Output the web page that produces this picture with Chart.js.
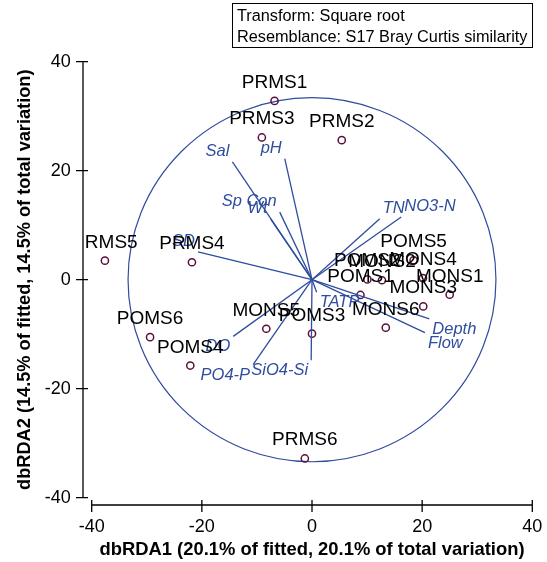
<!DOCTYPE html>
<html><head><meta charset="utf-8">
<script src="https://cdn.jsdelivr.net/npm/chart.js@4/dist/chart.umd.min.js"></script>
<style>html,body{margin:0;padding:0;background:#fff;}</style>
</head><body>
<canvas id="c" width="547" height="562"></canvas>
<script>
// ---- data ----
const sampleNames = ['PRMS1','PRMS2','PRMS3','PRMS4','PRMS5','PRMS6',
                     'POMS1','POMS2','POMS3','POMS4','POMS5','POMS6',
                     'MONS1','MONS2','MONS3','MONS4','MONS5','MONS6'];
const sampleX = [-6.8, 5.4, -9.1, -21.8, -37.6, -1.3,
                  8.8, 10.05, 0.0, -22.1, 18.45, -29.4,
                  25.0, 12.7, 20.2, 20.15, -8.3, 13.4];
const sampleY = [32.8, 25.6, 26.1, 3.2, 3.5, -32.8,
                 -2.8, 0.05, -9.9, -15.75, 3.55, -10.55,
                 -2.75, -0.1, -4.9, 0.3, -9.0, -8.8];
const vectorNames = ['Sal','pH','Sp Con','Wt','SD','DO','PO4-P','SiO4-Si','TATP','TN','NO3-N','Depth','Flow'];
const vectorX = [-14.45, -4.95, -5.86, -7.5, -20.7, -14.3, -10.7, -0.15, 0.85, 12.3, 16.2, 21.3, 20.5];
const vectorY = [21.6, 22.2, 12.4, 11.1, 5.1, -10.4, -15.6, -14.8, -2.3, 11.2, 11.5, -7.2, -9.7];
const xTicks = [-40, -20, 0, 20, 40];
const yTicks = [-40, -20, 0, 20, 40];
const circleRadius = 33.4;
const infoLines = ['Transform: Square root', 'Resemblance: S17 Bray Curtis similarity'];
const xTitle = 'dbRDA1 (20.1% of fitted, 20.1% of total variation)';
const yTitle = 'dbRDA2 (14.5% of fitted, 14.5% of total variation)';

// ---- styles ----
const FONT = "'Liberation Sans', Arial, sans-serif";
const BLUE = '#2f4d9e';
const PURPLE = '#5a0f3c';

const datasets = [];
vectorNames.forEach((n, i) => {
  datasets.push({
    label: n, type: 'scatter', showLine: true,
    data: [{x: 0, y: 0}, {x: vectorX[i], y: vectorY[i]}],
    borderColor: BLUE, borderWidth: 1.3, pointRadius: 0, fill: false
  });
});
datasets.push({
  label: 'samples', type: 'scatter',
  data: sampleX.map((x, i) => ({x: x, y: sampleY[i]})),
  pointRadius: 3.6, pointBorderWidth: 1.5,
  pointBackgroundColor: 'rgba(255,255,255,0)', pointBorderColor: PURPLE
});

const overlay = {
  id: 'overlay',
  beforeDatasetsDraw(chart) {
    const {ctx, scales: {x, y}} = chart;
    const cx = x.getPixelForValue(0), cy = y.getPixelForValue(0);
    const rx = Math.abs(x.getPixelForValue(circleRadius) - cx);
    const ry = Math.abs(y.getPixelForValue(circleRadius) - cy);
    ctx.save();
    ctx.strokeStyle = BLUE; ctx.lineWidth = 1.2;
    ctx.beginPath(); ctx.ellipse(cx, cy, rx, ry, 0, 0, Math.PI * 2); ctx.stroke();
    ctx.restore();
  },
  afterDatasetsDraw(chart) {
    const {ctx, scales: {x, y}} = chart;
    const ox = x.getPixelForValue(0), oy = y.getPixelForValue(0);
    ctx.save();
    // labels are clipped to the region right of the y axis
    ctx.beginPath(); ctx.rect(85, 0, chart.width - 85, chart.height); ctx.clip();
    // vector labels
    ctx.font = 'italic 16.5px ' + FONT;
    ctx.fillStyle = BLUE;
    ctx.textBaseline = 'alphabetic';
    vectorNames.forEach((n, i) => {
      const ex = x.getPixelForValue(vectorX[i]), ey = y.getPixelForValue(vectorY[i]);
      const dx = ex - ox, dy = ey - oy;
      ctx.textAlign = dx < 0 ? 'right' : 'left';
      const tx = ex + (dx < 0 ? -3 : 3);
      const ty = dy < 0 ? ey - 6 : ey + 15;
      ctx.fillText(n, tx, ty);
    });
    // sample labels
    ctx.font = '19px ' + FONT;
    ctx.fillStyle = '#000';
    ctx.textAlign = 'center';
    sampleNames.forEach((n, i) => {
      const px = x.getPixelForValue(sampleX[i]), py = y.getPixelForValue(sampleY[i]);
      ctx.fillText(n, px, py - 13);
    });
    ctx.restore();
  },
  afterDraw(chart) {
    const {ctx, scales: {x, y}} = chart;
    ctx.save();
    ctx.strokeStyle = '#000'; ctx.lineWidth = 1.3;
    // y axis (detached)
    const ax = 83;
    ctx.beginPath();
    ctx.moveTo(ax, y.getPixelForValue(yTicks[yTicks.length - 1]));
    ctx.lineTo(ax, y.getPixelForValue(yTicks[0]));
    yTicks.forEach(v => { const p = y.getPixelForValue(v); ctx.moveTo(ax - 7, p); ctx.lineTo(ax + 5, p); });
    ctx.stroke();
    // x axis (detached)
    const ay = 505;
    ctx.beginPath();
    ctx.moveTo(x.getPixelForValue(xTicks[0]), ay);
    ctx.lineTo(x.getPixelForValue(xTicks[xTicks.length - 1]), ay);
    xTicks.forEach(v => { const p = x.getPixelForValue(v); ctx.moveTo(p, ay - 5); ctx.lineTo(p, ay + 7); });
    ctx.stroke();
    // info box
    ctx.lineWidth = 1;
    ctx.strokeRect(232.5, 3.5, 300, 44);
    ctx.font = '16.3px ' + FONT;
    ctx.fillStyle = '#000';
    ctx.textAlign = 'left'; ctx.textBaseline = 'alphabetic';
    ctx.fillText(infoLines[0], 237, 21);
    ctx.fillText(infoLines[1], 237, 42);
    ctx.restore();
  }
};

new Chart(document.getElementById('c'), {
  type: 'scatter',
  data: {datasets},
  options: {
    responsive: false, animation: false, devicePixelRatio: 1,
    layout: {padding: {top: 61.7, right: 14.7, left: 0, bottom: 0}},
    plugins: {legend: {display: false}, tooltip: {enabled: false}},
    scales: {
      x: {
        type: 'linear', min: -40, max: 40, position: 'bottom',
        afterBuildTicks: s => { s.ticks = xTicks.map(v => ({value: v})); },
        grid: {display: false, drawTicks: false}, border: {display: false},
        ticks: {color: '#000', font: {family: FONT, size: 18}, padding: 19, maxRotation: 0, autoSkip: false},
        title: {display: true, text: xTitle, color: '#000', font: {family: FONT, size: 18.4, weight: 'bold'}, padding: {top: 0, bottom: 1}},
        afterFit: s => { s.height = 64.3; s.paddingLeft = 0; s.paddingRight = 0; }
      },
      y: {
        type: 'linear', min: -40, max: 40, position: 'left',
        afterBuildTicks: s => { s.ticks = yTicks.map(v => ({value: v})); },
        grid: {display: false, drawTicks: false}, border: {display: false},
        ticks: {color: '#000', font: {family: FONT, size: 18}, padding: 21, autoSkip: false},
        title: {display: true, text: yTitle, color: '#000', font: {family: FONT, size: 18.2, weight: 'bold'}, padding: {top: 14, bottom: 0}},
        afterFit: s => { s.width = 91.7; s.paddingTop = 0; s.paddingBottom = 0; }
      }
    }
  },
  plugins: [overlay]
});
</script>
</body></html>
